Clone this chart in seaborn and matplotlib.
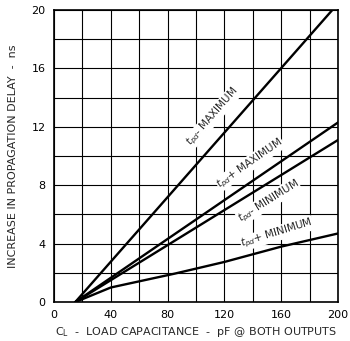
import matplotlib
matplotlib.use("Agg")
import matplotlib.pyplot as plt
import seaborn as sns
import pandas as pd
import numpy as np

# data (C_L in pF, delay increase in ns)
cap_max_minus = [15, 196]
delay_max_minus = [0, 20]

cap_max_plus = [15, 200]
delay_max_plus = [0, 12.3]

cap_min_minus = [15, 200]
delay_min_minus = [0, 11.1]

cap_min_plus = [15, 40, 85, 120, 160, 200]
delay_min_plus = [0, 1.0, 1.95, 2.75, 3.8, 4.7]

x_ticks = [0, 40, 80, 120, 160, 200]
y_ticks = [0, 4, 8, 12, 16, 20]

sns.set_style("white")
plt.rcParams["font.family"] = ["DejaVu Sans Condensed", "DejaVu Sans"]

fig = plt.figure(figsize=(3.5, 3.41), dpi=100)
ax = fig.add_axes([0.154, 0.114, 0.812, 0.857])

series = [
    (cap_max_minus, delay_max_minus),
    (cap_max_plus, delay_max_plus),
    (cap_min_minus, delay_min_minus),
    (cap_min_plus, delay_min_plus),
]
for xs, ys in series:
    sns.lineplot(x=xs, y=ys, ax=ax, color="black", linewidth=1.7)

ax.set_xlim(0, 200)
ax.set_ylim(0, 20)
ax.set_xticks(x_ticks)
ax.set_yticks(y_ticks)
ax.set_xticks(np.arange(0, 201, 20), minor=True)
ax.set_yticks(np.arange(0, 21, 2), minor=True)
ax.grid(True, which="both", color="black", linewidth=0.8)
ax.tick_params(which="both", length=0, labelsize=8, colors="black", pad=6)
for s in ax.spines.values():
    s.set_color("black")
    s.set_linewidth(1.2)

ax.set_ylabel("INCREASE IN PROPAGATION DELAY  -  ns", fontsize=8, labelpad=10)
ax.set_xlabel("C$_\\mathrm{L}$  -  LOAD CAPACITANCE  -  pF @ BOTH OUTPUTS", fontsize=8, labelpad=3)

lab = dict(fontsize=7.5, ha="center", va="center", rotation_mode="anchor",
           bbox=dict(facecolor="white", edgecolor="none", pad=0.3))
ax.text(112, 12.7, "$t_{pd}$- MAXIMUM", rotation=49, **lab)
ax.text(138, 9.5, "$t_{pd}$+ MAXIMUM", rotation=35, **lab)
ax.text(151, 6.9, "$t_{pd}$- MINIMUM", rotation=32, **lab)
ax.text(157, 4.7, "$t_{pd}$+ MINIMUM", rotation=17, **lab)

fig.savefig("out.png", dpi=100)
